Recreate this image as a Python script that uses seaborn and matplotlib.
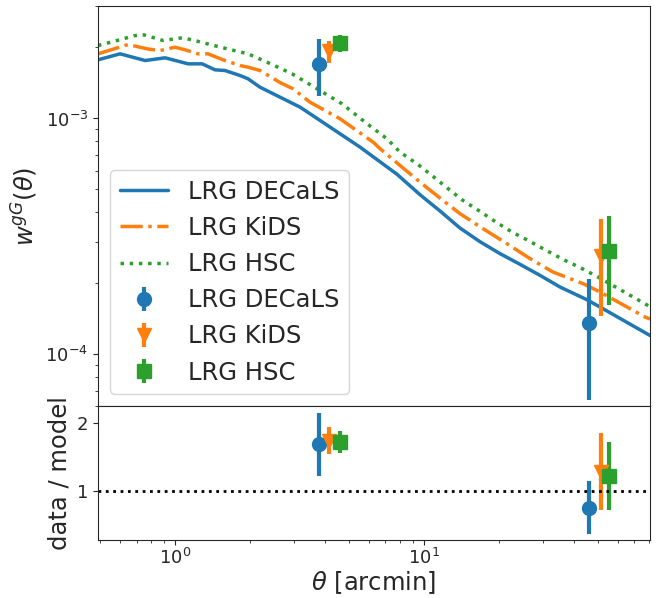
import numpy as np
import pandas as pd
import matplotlib
matplotlib.use("Agg")
import matplotlib.pyplot as plt
import seaborn as sns

sns.set_style("ticks")
plt.rcParams['font.family'] = ['DejaVu Sans']
plt.rcParams['mathtext.fontset'] = 'dejavusans'

# ---------------- data ----------------
labels = ["LRG DECaLS", "LRG KiDS", "LRG HSC"]
colors = ["#1f77b4", "#ff7f0e", "#2ca02c"]

# model curves (theta in arcmin, w in units of 1e-3)
theta_decals_model = [0.49, 0.601, 0.758, 0.912, 1.128, 1.284, 1.447, 1.588, 1.824, 1.964,
                      2.194, 2.641, 3.177, 3.822, 4.599, 5.534, 6.657, 7.79, 9.636, 11.60,
                      13.95, 16.79, 20.19, 24.29, 29.24, 35.18, 45.03, 50.92, 81.0]
w_decals_model = [1.773, 1.880, 1.761, 1.808, 1.705, 1.705, 1.608, 1.597, 1.521, 1.473,
                  1.357, 1.231, 1.117, 0.981, 0.861, 0.756, 0.655, 0.580, 0.475, 0.405,
                  0.343, 0.300, 0.2672, 0.2407, 0.2161, 0.1928, 0.1705, 0.1586, 0.120]

theta_kids_model = [0.49, 0.6475, 0.779, 0.8706, 1.0, 1.0968, 1.2371, 1.3568, 1.559, 1.824,
                    1.964, 2.194, 2.641, 2.978, 3.485, 4.599, 6.242, 6.657, 8.008, 9.636,
                    11.92, 13.95, 17.26, 21.54, 26.66, 32.97, 43.52, 50.92, 77.2, 81.0]
w_kids_model = [1.880, 2.059, 1.970, 1.942, 2.005, 1.955, 1.880, 1.880, 1.773, 1.677,
                1.650, 1.597, 1.420, 1.336, 1.172, 0.997, 0.794, 0.745, 0.632, 0.537,
                0.449, 0.3946, 0.3408, 0.2944, 0.2544, 0.2232, 0.1993, 0.1837, 0.1439, 0.141]

theta_hsc_model = [0.49, 0.5741, 0.6909, 0.7508, 0.8951, 1.0669, 1.17, 1.3822, 1.6327, 1.964,
                   2.342, 2.951, 3.718, 4.685, 5.796, 7.101, 8.008, 9.46, 10.87, 12.49,
                   14.34, 16.79, 19.46, 22.56, 26.17, 30.9, 36.16, 42.71, 49.99, 81.0]
w_hsc_model = [2.039, 2.130, 2.247, 2.262, 2.141, 2.198, 2.155, 2.059, 1.970, 1.880,
               1.732, 1.547, 1.336, 1.154, 0.965, 0.820, 0.720, 0.638, 0.568, 0.504,
               0.449, 0.4035, 0.3636, 0.3298, 0.3041, 0.2759, 0.2526, 0.2321, 0.2126, 0.159]

# measurements
theta_decals = [3.79, 46.1]
theta_kids = [4.15, 51.4]
theta_hsc = [4.60, 55.3]

w_decals = [1.71e-3, 1.36e-4]
w_decals_err = [0.47e-3, 0.72e-4]
w_kids = [1.93e-3, 2.60e-4]
w_kids_err = [0.21e-3, 1.15e-4]
w_hsc = [2.09e-3, 2.73e-4]
w_hsc_err = [0.18e-3, 1.12e-4]

ratio_decals = [1.69, 0.75]
ratio_decals_err = [0.47, 0.39]
ratio_kids = [1.74, 1.28]
ratio_kids_err = [0.20, 0.57]
ratio_hsc = [1.72, 1.22]
ratio_hsc_err = [0.16, 0.50]

# ---------------- figure ----------------
fig = plt.figure(figsize=(6.62, 5.98), dpi=100)
gs = fig.add_gridspec(2, 1, height_ratios=[3, 1], hspace=0,
                      left=0.148, right=0.982, top=0.990, bottom=0.097)
ax = fig.add_subplot(gs[0])
axr = fig.add_subplot(gs[1], sharex=ax)

models = [
    (theta_decals_model, w_decals_model, "-"),
    (theta_kids_model, w_kids_model, "-."),
    (theta_hsc_model, w_hsc_model, ":"),
]
for (th, w, ls), lab, c in zip(models, labels, colors):
    df = pd.DataFrame({"theta": th, "w": np.array(w) * 1e-3})
    sns.lineplot(data=df, x="theta", y="w", ax=ax, color=c, lw=2.5,
                 linestyle=ls, label=lab, sort=False)

meas = [
    (theta_decals, w_decals, w_decals_err, ratio_decals, ratio_decals_err, "o"),
    (theta_kids, w_kids, w_kids_err, ratio_kids, ratio_kids_err, "v"),
    (theta_hsc, w_hsc, w_hsc_err, ratio_hsc, ratio_hsc_err, "s"),
]
for (th, w, we, r, re, m), lab, c in zip(meas, labels, colors):
    ax.errorbar(th, w, yerr=we, fmt=m, color=c, ms=10, elinewidth=3, label=lab)
    axr.errorbar(th, r, yerr=re, fmt=m, color=c, ms=10, elinewidth=3)

axr.axhline(1.0, color="black", ls=":", lw=2)

ax.set_xscale("log")
ax.set_yscale("log")
ax.set_xlim(0.49, 81)
ax.set_ylim(6e-5, 3e-3)
axr.set_ylim(0.27, 2.25)
axr.set_yticks([1, 2])

ax.set_xlabel("")
ax.set_ylabel(r"$w^{gG}(\theta)$", fontsize=17.5)
axr.set_ylabel("data / model", fontsize=17.5)
axr.set_xlabel(r"$\theta$ [arcmin]", fontsize=17.5, labelpad=1)
ax.tick_params(axis="x", which="both", labelbottom=False)
for a in (ax, axr):
    a.tick_params(axis="both", which="major", labelsize=13)
axr.tick_params(axis="x", which="major", pad=2)

ax.legend(loc="lower left", fontsize=17.5, frameon=True)

fig.savefig("out.png", dpi=100)
